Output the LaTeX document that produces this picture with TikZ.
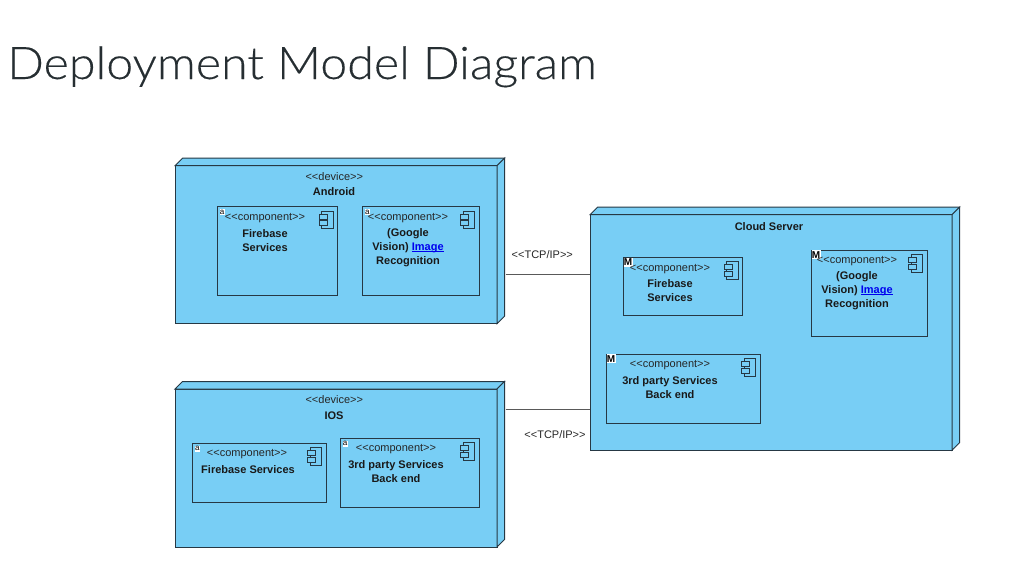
\documentclass[tikz,border=0pt]{standalone}
\usepackage{fontspec}
\setmainfont{Liberation Sans}
\newfontfamily\titlefont[FakeStretch=1.075,FakeBold=0.3]{Lato Light}
\usetikzlibrary{positioning}
\definecolor{nodeblue}{RGB}{120,206,245}
\definecolor{nodeline}{RGB}{38,56,68}
\definecolor{linkblue}{RGB}{0,0,238}
\definecolor{titlegray}{RGB}{38,46,50}
\tikzset{
  devicebox/.style={draw=nodeline, fill=nodeblue, line width=1pt, inner sep=0pt, outer sep=0pt, anchor=north west},
  partbox/.style={draw=nodeline, fill=nodeblue, line width=1pt, inner sep=0pt, outer sep=0pt, anchor=north west},
  stereo/.style={font=\fontsize{11}{14}\selectfont, inner sep=0pt, text=black!85, yshift=-0.8pt},
  partname/.style={font=\fontsize{11}{14}\selectfont\bfseries, align=center, inner sep=0pt, text=black!90, yshift=-0.8pt},
  badgea/.style={fill=white, font=\fontsize{8}{8}\selectfont, inner sep=0pt, minimum width=5pt, minimum height=6pt, anchor=north west},
  badgem/.style={fill=white, font=\fontsize{10}{10}\selectfont\bfseries, inner sep=0pt, minimum width=9pt, minimum height=9pt, anchor=north west},
  wire/.style={draw=black!65, line width=1pt},
}
\newcommand{\tagtext}[1]{<{}<#1>{}>}
\newlength{\linkwidth}
\newcommand{\linkword}[1]{\settowidth{\linkwidth}{#1}\textcolor{linkblue}{\rlap{\rule[-1.6pt]{\linkwidth}{0.8pt}}#1}}
\newcommand{\partglyph}[1]{%
  \draw[draw=nodeline, line width=0.9pt] ([shift={(-16,4.6)}]#1.north east) rectangle ([shift={(-4.4,22)}]#1.north east);
  \draw[draw=nodeline, fill=nodeblue, line width=0.9pt] ([shift={(-18.5,7.5)}]#1.north east) rectangle ([shift={(-10.5,12.5)}]#1.north east);
  \draw[draw=nodeline, fill=nodeblue, line width=0.9pt] ([shift={(-18.5,14.2)}]#1.north east) rectangle ([shift={(-10.5,19.2)}]#1.north east);
}
\begin{document}
\begin{tikzpicture}[x=1pt, y=-1pt]
  \useasboundingbox (0,0) rectangle (1032,587);
  \node[font=\fontsize{45}{45}\selectfont\titlefont, text=titlegray, anchor=base west, inner sep=0pt] (title) at (7,79) {Deployment Model Diagram};

  % devices
  \node[devicebox, minimum width=322pt, minimum height=158pt] (android) at (175,165.7) {};
  \node[devicebox, minimum width=322pt, minimum height=158pt] (ios) at (175,389) {};
  \node[devicebox, minimum width=362pt, minimum height=235.5pt] (cloud) at (590,214.7) {};
  \foreach \n in {android,ios,cloud} {
    \draw[draw=nodeline, fill=nodeblue, line width=1pt] (\n.north west) -- ++(7.5,-7.5) -- ([shift={(7.5,-7.5)}]\n.north east) -- (\n.north east) -- cycle;
    \draw[draw=nodeline, fill=nodeblue, line width=1pt] (\n.north east) -- ([shift={(7.5,-7.5)}]\n.north east) -- ([shift={(7.5,-7.5)}]\n.south east) -- (\n.south east) -- cycle;
  }
  \node[stereo] (androidtag) at (334.3,175.7) {\tagtext{device}};
  \node[partname] (androidname) at (334,191) {Android};
  \node[stereo] (iostag) at (334.3,399) {\tagtext{device}};
  \node[partname] (iosname) at (334,415) {IOS};
  \node[partname] (cloudname) at (769,226) {Cloud Server};

  % android parts
  \node[partbox, minimum width=120.4pt, minimum height=88.6pt] (androidfire) at (217.3,206.7) {};
  \node[partbox, minimum width=116.6pt, minimum height=88.6pt] (androidvision) at (362.7,206.7) {};
  \node[badgea] (androidfirebadge) at ([shift={(2,2)}]androidfire.north west) {a};
  \node[badgea] (androidvisionbadge) at ([shift={(2,2)}]androidvision.north west) {a};
  \node[stereo] (androidfiretag) at (265,217) {\tagtext{component}};
  \node[stereo] (androidvisiontag) at (408,217) {\tagtext{component}};
  \node[partname] (androidfiretext) at (265,239.7) {Firebase\\Services};
  \node[partname] (androidvisiontext) at (408,247) {(Google\\Vision) \linkword{Image}\\Recognition};
  \partglyph{androidfire}
  \partglyph{androidvision}

  % ios parts
  \node[partbox, minimum width=134pt, minimum height=59pt] (iosfire) at (192.3,443.3) {};
  \node[partbox, minimum width=139pt, minimum height=69.4pt] (iosthird) at (340.3,438.3) {};
  \node[badgea] (iosfirebadge) at ([shift={(2.4,2)}]iosfire.north west) {a};
  \node[badgea] (iosthirdbadge) at ([shift={(2,2)}]iosthird.north west) {a};
  \node[stereo] (iosfiretag) at (247,453) {\tagtext{component}};
  \node[stereo] (iosthirdtag) at (396,448.7) {\tagtext{component}};
  \node[partname] (iosfiretext) at (248,469) {Firebase Services};
  \node[partname] (iosthirdtext) at (396,471.2) {3rd party Services\\Back end};
  \partglyph{iosfire}
  \partglyph{iosthird}

  % cloud parts
  \node[partbox, minimum width=119.4pt, minimum height=58pt] (cloudfire) at (623.3,257.3) {};
  \node[partbox, minimum width=115.7pt, minimum height=86.3pt] (cloudvision) at (811.3,250) {};
  \node[partbox, minimum width=153.7pt, minimum height=69.3pt] (cloudthird) at (606.3,354) {};
  \node[badgem] (cloudfirebadge) at (cloudfire.north west) {M};
  \node[badgem] (cloudvisionbadge) at (cloudvision.north west) {M};
  \node[badgem] (cloudthirdbadge) at (cloudthird.north west) {M};
  \node[stereo] (cloudfiretag) at (670,268) {\tagtext{component}};
  \node[stereo] (cloudvisiontag) at (857,260) {\tagtext{component}};
  \node[stereo] (cloudthirdtag) at (670,364.5) {\tagtext{component}};
  \node[partname] (cloudfiretext) at (670,290) {Firebase\\Services};
  \node[partname] (cloudvisiontext) at (857,289.5) {(Google\\Vision) \linkword{Image}\\Recognition};
  \node[partname] (cloudthirdtext) at (670,387) {3rd party Services\\Back end};
  \partglyph{cloudfire}
  \partglyph{cloudvision}
  \partglyph{cloudthird}

  % links
  \coordinate (androidport) at (505.5,274.7);
  \coordinate (iosport) at (505.5,409);
  \draw[wire] (androidport) -- (androidport -| cloud.west);
  \draw[wire] (iosport) -- (iosport -| cloud.west);
  \node[stereo] (androidlink) at (542.3,254) {\tagtext{TCP/IP}};
  \node[stereo] (ioslink) at (555,433.5) {\tagtext{TCP/IP}};
\end{tikzpicture}
\end{document}
